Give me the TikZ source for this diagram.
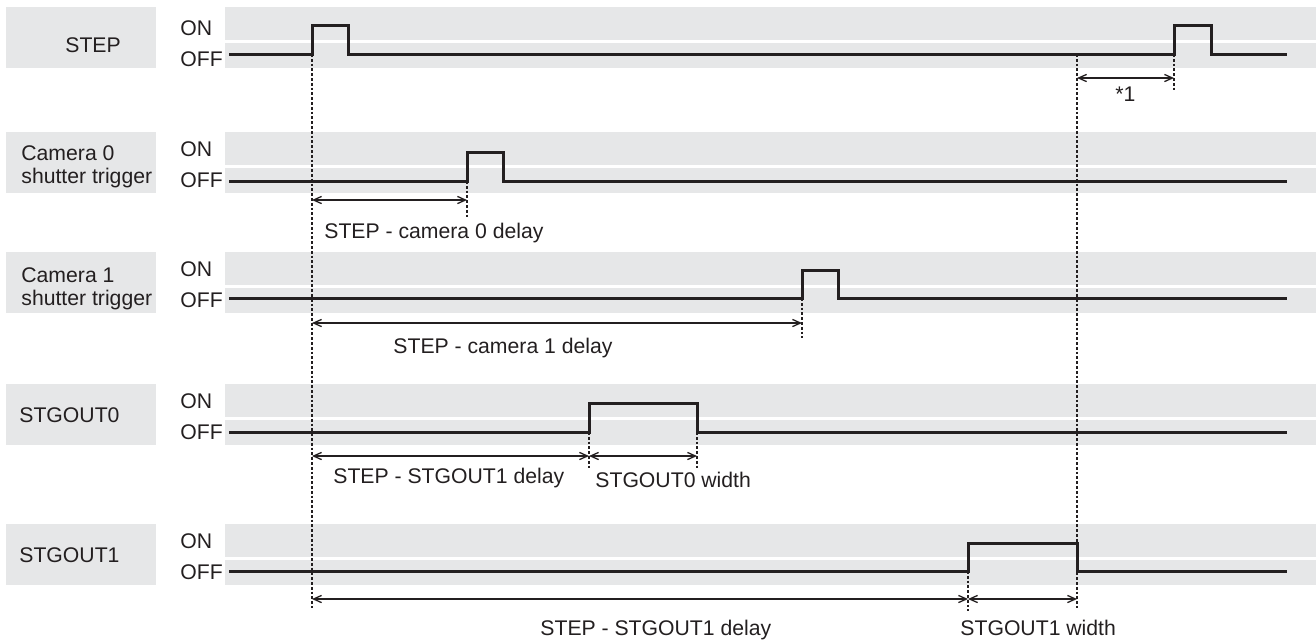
\documentclass[tikz,border=0pt]{standalone}
\usepackage{fontspec}
\setmainfont{Liberation Sans}
\usetikzlibrary{arrows.meta}
\definecolor{bandgray}{RGB}{230,231,232}
\definecolor{ink}{RGB}{35,31,32}
\tikzset{
  signal/.style={line width=1.5pt, ink},
  guide/.style={line width=0.8pt, dash pattern=on 1.4pt off 1pt, ink},
  dimarrow/.style={line width=0.65pt, ink, {Straight Barb[length=4pt,width=3.6pt]}-{Straight Barb[length=4pt,width=3.6pt]}},
  lbl/.style={anchor=base west, inner sep=0pt, text=ink},
}
\begin{document}
\begin{tikzpicture}[x=0.5pt,y=-0.5pt,font=\fontsize{10.6}{12.7}\selectfont]
    \useasboundingbox (0,0) rectangle (1316,639);
    % bandas grises y niveles ON/OFF
    \foreach \t/\d [count=\i] in {7/4,132/0,252/0,384/0,524/0} {
        \fill[bandgray] (6,\t) rectangle (156,\t+61);
        \fill[bandgray] (225,\t) rectangle (1316,\t+33);
        \fill[bandgray] (225,\t+35.5) rectangle (1316,\t+61);
        \node[lbl] (on\i) at (180,\t+24+\d) {ON};
        \node[lbl] (off\i) at (180,\t+55+\d) {OFF};
    }
    \node[lbl] (step) at (65,52) {STEP};
    \node[lbl] (cam0a) at (21,160) {Camera 0};
    \node[lbl] (cam0b) at (21,183) {shutter trigger};
    \node[lbl] (cam1a) at (21,282) {Camera 1};
    \node[lbl] (cam1b) at (21,305) {shutter trigger};
    \node[lbl] (stg0) at (19,422) {STGOUT0};
    \node[lbl] (stg1) at (19,562) {STGOUT1};

    % senales
    \draw[signal] (229,54) -- (312,54) -- (312,25) -- (348,25) -- (348,54)
        -- (1174,54) -- (1174,25) -- (1211,25) -- (1211,54) -- (1287,54);
    \draw[signal] (229,181) -- (467,181) -- (467,152) -- (503,152) -- (503,181) -- (1287,181);
    \draw[signal] (229,298) -- (802,298) -- (802,270) -- (838,270) -- (838,298) -- (1287,298);
    \draw[signal] (229,432) -- (589,432) -- (589,403) -- (697,403) -- (697,432) -- (1287,432);
    \draw[signal] (229,571) -- (968,571) -- (968,543) -- (1077,543) -- (1077,571) -- (1287,571);

    % flancos
    \coordinate (stepA) at (312,54);
    \coordinate (stepB) at (1174,54);
    \coordinate (tend) at (1077,54);
    \coordinate (c0) at (467,181);
    \coordinate (c1) at (802,298);
    \coordinate (o0a) at (589,432);
    \coordinate (o0b) at (697,432);
    \coordinate (o1a) at (968,571);
    \coordinate (o1b) at (1077,571);

    \draw[guide] (stepA) -- ++(0,554);
    \draw[guide] (tend) -- ++(0,554);
    \draw[guide] (stepB) -- ++(0,38);
    \draw[guide] (c0) -- ++(0,37);
    \draw[guide] (c1) -- ++(0,40);
    \draw[guide] (o0a) -- ++(0,38);
    \draw[guide] (o0b) -- ++(0,38);
    \draw[guide] (o1a) -- ++(0,40);

    % cotas
    \coordinate (r1) at (0,78);
    \coordinate (r2) at (0,200);
    \coordinate (r3) at (0,323);
    \coordinate (r4) at (0,456);
    \coordinate (r5) at (0,599);
    \draw[dimarrow] (tend |- r1) -- (stepB |- r1);
    \draw[dimarrow] (stepA |- r2) -- (c0 |- r2);
    \draw[dimarrow] (stepA |- r3) -- (c1 |- r3);
    \draw[dimarrow] (stepA |- r4) -- (o0a |- r4);
    \draw[dimarrow] (o0a |- r4) -- (o0b |- r4);
    \draw[dimarrow] (stepA |- r5) -- (o1a |- r5);
    \draw[dimarrow] (o1a |- r5) -- (o1b |- r5);

    \node[lbl] (d1) at (1115,101) {*1};
    \node[lbl] (d2) at (324,238) {STEP - camera 0 delay};
    \node[lbl] (d3) at (393,353) {STEP - camera 1 delay};
    \node[lbl] (d4) at (333,483) {STEP - STGOUT1 delay};
    \node[lbl] (d5) at (595,487) {STGOUT0 width};
    \node[lbl] (d6) at (540,635) {STEP - STGOUT1 delay};
    \node[lbl] (d7) at (960,635) {STGOUT1 width};
\end{tikzpicture}
\end{document}
